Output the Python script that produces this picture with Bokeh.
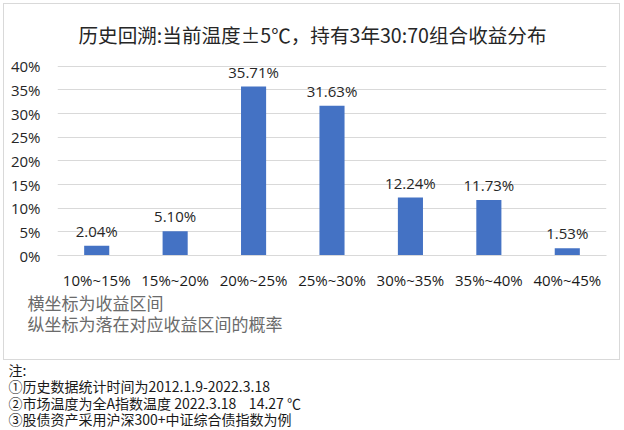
from bokeh.plotting import figure
from bokeh.models import (ColumnDataSource, LabelSet, Label, Column,
                          FixedTicker, PrintfTickFormatter, Range1d, FactorRange)
from bokeh.core.properties import value
from bokeh.embed import file_html
from bokeh.resources import INLINE

# ---- data ----
categories = ["10%~15%", "15%~20%", "20%~25%", "25%~30%", "30%~35%", "35%~40%", "40%~45%"]
probabilities = [2.04, 5.10, 35.71, 31.63, 12.24, 11.73, 1.53]
y_ticks = [0, 5, 10, 15, 20, 25, 30, 35, 40]
title_text = "历史回溯:当前温度±5℃，持有3年30:70组合收益分布"
axis_notes = ["横坐标为收益区间", "纵坐标为落在对应收益区间的概率"]
footnotes = ["注:",
             "①历史数据统计时间为2012.1.9-2022.3.18",
             "②市场温度为全A指数温度 2022.3.18\u00a0\u00a0\u00a0\u00a014.27 ℃",
             "③股债资产采用沪深300+中证综合债指数为例"]

LATIN = "Open Sans"
CJK = "Noto Sans CJK SC"
BORDER = "#d9d9d9"
INNER_W = 615


def text_panel(width, height):
    """A figure whose frame is the whole canvas, used only to hold texts."""
    f = figure(width=width, height=height, x_range=Range1d(0, width),
               y_range=Range1d(height, 0), x_axis_type=None, y_axis_type=None,
               min_border=0, output_backend="svg", toolbar_location=None,
               frame_align=False)
    f.outline_line_color = None
    f.background_fill_color = "white"
    f.border_fill_color = "white"
    f.grid.visible = False
    return f


# ---- title ----
pT = text_panel(INNER_W, 46)
pT.add_layout(Label(x=308, y=30, text=title_text, text_align="center",
                    text_baseline="middle", text_font=CJK,
                    text_font_size="19.6px", text_color="#262626"))

# ---- chart ----
source = ColumnDataSource(dict(
    cat=categories,
    val=probabilities,
    label=["%.2f%%" % v for v in probabilities],
))

frame_h = 208
p = figure(x_range=FactorRange(*categories, range_padding=0),
           y_range=Range1d(0, frame_h / 4.8),
           width=INNER_W, height=frame_h + 34,
           min_border_left=53, min_border_right=13,
           min_border_top=0, min_border_bottom=34,
           output_backend="svg", toolbar_location=None,
           frame_align=False)
p.outline_line_color = None
p.background_fill_color = "white"
p.border_fill_color = "white"

p.vbar(x="cat", top="val", width=0.32, source=source,
       fill_color="#4472C4", line_color=None)

p.add_layout(LabelSet(x="cat", y="val", text="label", source=source,
                      y_offset=5, text_align="center", text_baseline="bottom",
                      text_font=value(LATIN), text_font_size="15px",
                      text_color="#262626"))

p.xgrid.grid_line_color = None
p.ygrid.grid_line_color = BORDER
p.ygrid.grid_line_width = 1

p.yaxis.ticker = FixedTicker(ticks=y_ticks)
p.yaxis.formatter = PrintfTickFormatter(format="%d%%")
p.yaxis.axis_line_color = None
p.yaxis.major_tick_line_color = None
p.yaxis.minor_tick_line_color = None
p.yaxis.major_tick_out = 0
p.yaxis.minor_tick_out = 0
p.yaxis.major_label_standoff = 17
p.yaxis.major_label_text_font = LATIN
p.yaxis.major_label_text_font_size = "15px"
p.yaxis.major_label_text_color = "#262626"

p.xaxis.axis_line_color = BORDER
p.xaxis.major_tick_line_color = None
p.xaxis.minor_tick_line_color = None
p.xaxis.major_tick_out = 0
p.xaxis.minor_tick_out = 0
p.xaxis.major_label_standoff = 14
p.xaxis.major_label_text_font = LATIN
p.xaxis.major_label_text_font_size = "15px"
p.xaxis.major_label_text_color = "#1a1a1a"

# ---- axis descriptions (inside the box) ----
pB = text_panel(INNER_W, 67)
for i, t in enumerate(axis_notes):
    pB.add_layout(Label(x=23, y=10 + 21 * i, text=t, text_align="left",
                        text_baseline="middle", text_font=CJK,
                        text_font_size="17px", text_color="#6b6b6b"))

box = Column(children=[pT, p, pB], spacing=0,
             styles={"border": "1px solid " + BORDER})

# ---- footnotes (below the box) ----
pC = text_panel(INNER_W + 2, 70)
for i, t in enumerate(footnotes):
    pC.add_layout(Label(x=5, y=9 + 16.5 * i, text=t, text_align="left",
                        text_baseline="middle", text_font=CJK,
                        text_font_size="14px", text_color="#1a1a1a"))

page = Column(children=[box, pC], spacing=0,
              styles={"margin-left": "3px", "margin-top": "3px"})

open("out.html", "w").write(file_html(page, INLINE))
